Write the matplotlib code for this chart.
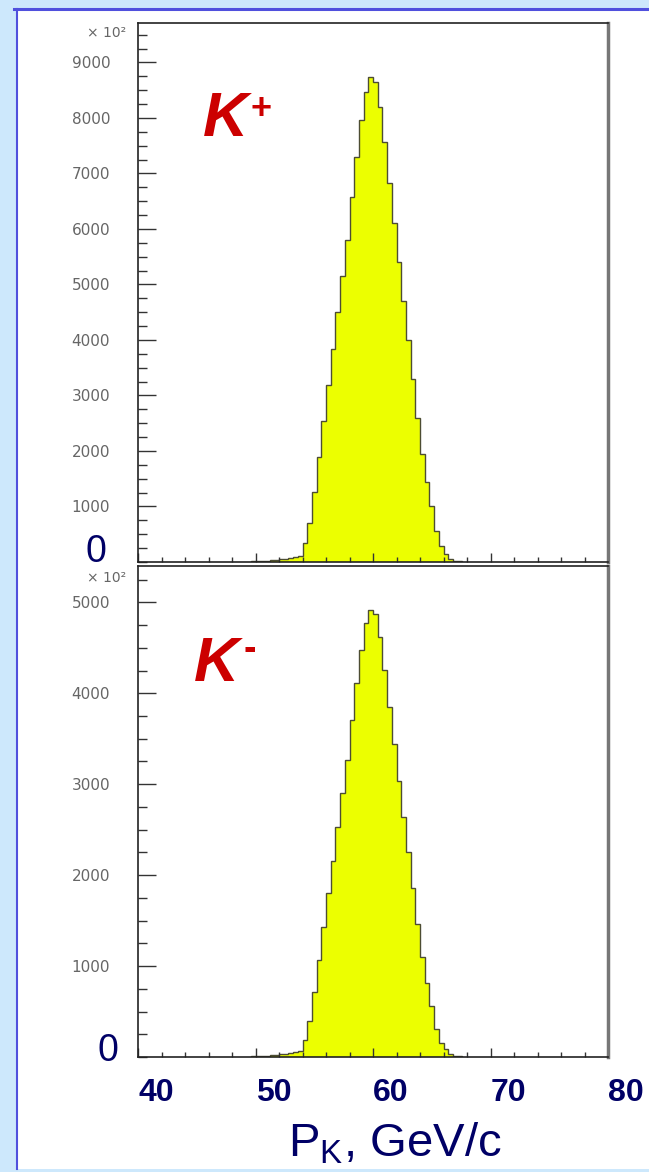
"""
K+ / K- beam momentum spectra (ROOT-style histograms, two stacked pads).
"""

import numpy as np
import matplotlib.pyplot as plt
from matplotlib.patches import Rectangle
from matplotlib.lines import Line2D
from matplotlib.ticker import MultipleLocator
from matplotlib.transforms import ScaledTranslation, Bbox, TransformedBbox

plt.rcParams["mathtext.fontset"] = "custom"
plt.rcParams["mathtext.rm"] = "Liberation Sans"

W, H = 649, 1172

# 0.4 GeV/c bins, first listed bin starts at 49.6 GeV/c (values in units of 10^2)
BIN_W = 0.4
FIRST_EDGE = 49.6

k_plus = [10, 15, 20, 25, 30, 40, 50, 60, 75, 90,
          110, 340, 700, 1260, 1890, 2540, 3190, 3840, 4500, 5150,
          5800, 6580, 7300, 7960, 8470, 8740, 8650, 8200, 7570, 6830,
          6110, 5400, 4700, 4000, 3300, 2600, 1950, 1450, 1000, 550,
          280, 150, 60, 20, 10]

k_minus = [6, 8, 11, 14, 17, 22, 28, 34, 42, 51,
           62, 190, 395, 710, 1065, 1430, 1800, 2160, 2530, 2900,
           3265, 3705, 4110, 4480, 4770, 4920, 4870, 4615, 4260, 3845,
           3440, 3040, 2645, 2250, 1860, 1465, 1100, 815, 563, 310,
           158, 85, 34, 11, 6]

x_ticks = [40, 50, 60, 70, 80]
y_ticks_plus = [1000, 2000, 3000, 4000, 5000, 6000, 7000, 8000, 9000]
y_ticks_minus = [1000, 2000, 3000, 4000, 5000]

YELLOW = "#ecff00"
NAVY = "#000066"
RED = "#cc0000"


def fx(px):
    return px / W


def fy(py):
    return 1 - py / H


def style_pad(ax, ytop, yticks):
    ax.set_xlim(40, 80)
    ax.set_ylim(0, ytop)
    ax.set_xticks(x_ticks)
    ax.xaxis.set_minor_locator(MultipleLocator(2))
    ax.set_yticks(yticks, labels=[str(v) for v in yticks])
    ax.yaxis.set_minor_locator(MultipleLocator(250))
    ax.tick_params(axis="y", which="major", direction="in", length=13, width=1,
                   color="#333333", labelsize=11, labelcolor="#666666", pad=20)
    ax.tick_params(axis="y", which="minor", direction="in", length=6.5, width=1,
                   color="#333333")
    ax.tick_params(axis="x", which="major", direction="in", length=6.5, width=1,
                   color="#333333")
    ax.tick_params(axis="x", which="minor", direction="in", length=3.5, width=1,
                   color="#333333")
    for s in ["left", "bottom", "top"]:
        ax.spines[s].set_color("#222222")
        ax.spines[s].set_linewidth(1.2)
    ax.spines["right"].set_color("#777777")
    ax.spines["right"].set_linewidth(2.5)


def draw_hist(ax, vals):
    edges = FIRST_EDGE + BIN_W * np.arange(len(vals) + 1)
    ax.stairs(vals, edges, fill=True, color=YELLOW)
    ax.stairs(vals, edges, color="#4d4d33", linewidth=1.0)


fig = plt.figure(figsize=(W / 100, H / 100), dpi=100)
fig.patch.set_facecolor("#cde8fc")

# white slide panel with blue border on the left and top
fig.add_artist(Rectangle((fx(17), fy(1169)), 1.0, fy(9) - fy(1169),
                         transform=fig.transFigure, facecolor="white",
                         edgecolor="none", zorder=0))
fig.add_artist(Line2D([fx(17), fx(17)], [fy(1169), fy(9)], color="#5050dd",
                      linewidth=1.5, transform=fig.transFigure))
fig.add_artist(Line2D([fx(14), 1.0], [fy(9), fy(9)], color="#5050dd",
                      linewidth=2.2, transform=fig.transFigure))

ax1 = fig.add_axes([fx(138), fy(562), fx(608) - fx(138), fy(23) - fy(562)])
ax2 = fig.add_axes([fx(138), fy(1057), fx(608) - fx(138), fy(566) - fy(1057)])

style_pad(ax1, 9710, y_ticks_plus)
style_pad(ax2, 5400, y_ticks_minus)
draw_hist(ax1, k_plus)
draw_hist(ax2, k_minus)

ax1.tick_params(axis="x", labelbottom=False)
ax2.set_xticks(x_ticks, labels=[str(v) for v in x_ticks])
ax2.tick_params(axis="x", which="major", labelsize=23, labelcolor=NAVY, pad=15)
shift = ScaledTranslation(18 / 100, 0, fig.dpi_scale_trans)
for lab in ax2.get_xticklabels():
    lab.set_fontweight("bold")
    lab.set_fontfamily("Liberation Sans")
    lab.set_transform(lab.get_transform() + shift)

# ROOT "x 10^2" exponent labels
fig.text(fx(126), fy(33), "× 10²", ha="right", va="center", fontsize=10,
         color="#666666")
t = fig.text(fx(126), fy(578), "× 10²", ha="right", va="center", fontsize=10,
             color="#666666")
t.set_clip_box(TransformedBbox(Bbox([[0, 0], [1, fy(571)]]), fig.transFigure))
t.set_clip_on(True)

# big zero labels added on the slide
fig.text(fx(96), fy(552), "0", ha="center", va="center", fontsize=27,
         color=NAVY, family="Liberation Sans")
fig.text(fx(108), fy(1051), "0", ha="center", va="center", fontsize=27,
         color=NAVY, family="Liberation Sans")

# particle labels
fig.text(fx(203), fy(136), "K", fontsize=45, fontweight="bold", fontstyle="italic",
         color=RED, family="Liberation Sans", ha="left", va="baseline")
fig.text(fx(261), fy(109), "+", fontsize=26, fontweight="bold",
         color=RED, family="Liberation Sans", ha="center", va="center")
fig.text(fx(194), fy(681), "K", fontsize=45, fontweight="bold", fontstyle="italic",
         color=RED, family="Liberation Sans", ha="left", va="baseline")
fig.text(fx(250), fy(650), "-", fontsize=27, fontweight="bold",
         color=RED, family="Liberation Sans", ha="center", va="center")

fig.text(fx(395), fy(1157), r"P$_{\mathrm{K}}$, GeV/c", ha="center", va="baseline",
         fontsize=34, color=NAVY, family="Liberation Sans")

fig.savefig("out.png", dpi=100, facecolor=fig.get_facecolor())
